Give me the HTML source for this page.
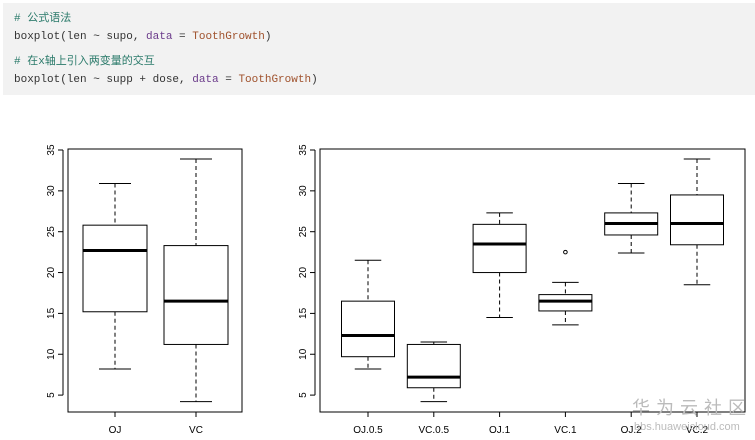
<!DOCTYPE html>
<html><head><meta charset="utf-8"><style>
body{margin:0;width:755px;height:440px;background:#fff;overflow:hidden;position:relative}
.code{position:absolute;left:3px;top:3px;width:752px;height:92px;background:#f2f2f2;font-family:"Liberation Mono","Noto Sans CJK SC",monospace;font-size:11px;color:#333}
.code div{position:absolute;left:11px}
.c{color:#2a7a6a}.k{color:#6a3a8a}.s{color:#a0522d}
</style></head><body>
<div class="code">
<div class="c" style="top:6px"># 公式语法</div>
<div style="top:28px">boxplot(len ~ supo, <span class="k">data</span> = <span class="s">ToothGrowth</span>)</div>
<div class="c" style="top:49px"># 在x轴上引入两变量的交互</div>
<div style="top:71px">boxplot(len ~ supp + dose, <span class="k">data</span> = <span class="s">ToothGrowth</span>)</div>
</div>
<svg width="755" height="440" style="position:absolute;left:0;top:0" font-family="Liberation Sans, sans-serif" font-size="10">
<g id="plots" stroke="#000" fill="none"></g>
<text x="632" y="414" font-family="Noto Sans CJK SC, sans-serif" font-size="18" fill="#bbb" letter-spacing="6">华为云社区</text>
<text x="634" y="430" font-size="11" fill="#bbb">bbs.huaweicloud.com</text>
</svg>
<script>
var g=document.getElementById('plots'),h='';
function Y(v){return 150+(35-v)*8.17}
function axis(x0,x1){h+=`<rect x="${x0}" y="149" width="${x1-x0}" height="263" stroke-width="1"/>`;
h+=`<line x1="${x0-5}" x2="${x0-5}" y1="${Y(35)}" y2="${Y(5)}"/>`;
for(var v=5;v<=35;v+=5){var y=Y(v);h+=`<line x1="${x0-10}" x2="${x0-5}" y1="${y}" y2="${y}"/><text x="${x0-14}" y="${y}" transform="rotate(-90 ${x0-14} ${y})" text-anchor="middle" stroke="none" fill="#000">${v}</text>`;}}
function box(c,hw,lo,q1,m,q3,hi,lab,out){var cw=hw/2;
h+=`<line x1="${c}" x2="${c}" y1="${Y(hi)}" y2="${Y(q3)}" stroke-dasharray="4,3"/><line x1="${c}" x2="${c}" y1="${Y(q1)}" y2="${Y(lo)}" stroke-dasharray="4,3"/>`;
h+=`<line x1="${c-cw}" x2="${c+cw}" y1="${Y(hi)}" y2="${Y(hi)}"/><line x1="${c-cw}" x2="${c+cw}" y1="${Y(lo)}" y2="${Y(lo)}"/>`;
h+=`<rect x="${c-hw}" y="${Y(q3)}" width="${2*hw}" height="${Y(q1)-Y(q3)}" fill="#fff"/><line x1="${c-hw}" x2="${c+hw}" y1="${Y(m)}" y2="${Y(m)}" stroke-width="3"/>`;
if(out)h+=`<circle cx="${c}" cy="${Y(out)}" r="1.8"/>`;
h+=`<line x1="${c}" x2="${c}" y1="412" y2="417"/><text x="${c}" y="433" text-anchor="middle" stroke="none" fill="#000">${lab}</text>`;}
axis(68,242);
box(115,32,8.2,15.2,22.7,25.8,30.9,'OJ');
box(196,32,4.2,11.2,16.5,23.3,33.9,'VC');
axis(320,745);
var d=[[8.2,9.7,12.3,16.5,21.5,'OJ.0.5'],[4.2,5.9,7.2,11.2,11.5,'VC.0.5'],[14.5,20,23.5,25.9,27.3,'OJ.1'],[13.6,15.3,16.5,17.3,18.8,'VC.1',22.5],[22.4,24.6,26,27.3,30.9,'OJ.2'],[18.5,23.4,26,29.5,33.9,'VC.2']];
d.forEach(function(r,i){box(368+i*65.8,26.5,r[0],r[1],r[2],r[3],r[4],r[5],r[6]);});
g.innerHTML=h;
</script>
</body></html>
